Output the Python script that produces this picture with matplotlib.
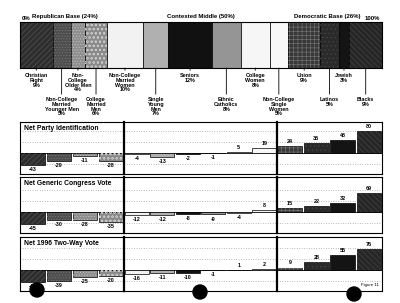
import matplotlib
matplotlib.use('Agg')
import matplotlib.pyplot as plt
from matplotlib.patches import Ellipse
import numpy as np

plt.rcParams['font.family'] = ['Liberation Sans', 'DejaVu Sans']
plt.rcParams['hatch.linewidth'] = 0.4

# ---------------- data ----------------
segments = ["Christian\nRight", "Non-College\nMarried\nYounger Men", "Non-\nCollege\nOlder Men",
            "College\nMarried\nMen", "Non-College\nMarried\nWomen", "Single\nYoung\nMen", "Seniors",
            "Ethnic\nCatholics", "College\nWomen", "Non-College\nSingle\nWomen", "Union", "Latinos",
            "Jewish", "Blacks"]
shares = [9, 5, 4, 6, 10, 7, 12, 8, 8, 5, 9, 5, 3, 9]
groups = ["Republican Base (24%)", "Contested Middle (50%)", "Democratic Base (26%)"]
group_sizes = [4, 6, 4]

row_titles = ["Net Party Identification", "Net Generic Congress Vote", "Net 1996 Two-Way Vote"]
net_party_id = [-43, -29, -11, -28, -4, -13, -2, -1, 5, 19, 24, 35, 48, 80]
net_congress = [-45, -30, -28, -35, -12, -12, -8, -9, -4, 8, 15, 22, 32, 69]
net_1996 = [-45, -39, -25, -20, -16, -11, -10, -1, 1, 2, 9, 28, 55, 76]
rows_data = [net_party_id, net_congress, net_1996]

# ---------------- styles ----------------
fills = ['#2e2e2e', '#4e4e4e', '#8e8e8e', '#8a8a8a', '#f2f2f2', '#b0b0b0', '#111111',
         '#959595', '#f6f6f6', '#f8f8f8', '#383838', '#2a2a2a', '#141414', '#262626']
hatches = ['//////', '......', '......', 'oooo', '', '', '', '', '', '', '++++', '....', '', '\\\\\\\\\\\\']
hatch_cols = ['#5a5a5a', '#777777', '#c4c4c4', '#c8c8c8', None, None, None, None, None, None,
              '#7a7a7a', '#484848', None, '#4a4a4a']

W, H = 400, 303
fig = plt.figure(figsize=(W / 100, H / 100), dpi=100)


def rect(x0, y0, x1, y1):
    return [x0 / W, 1 - y1 / H, (x1 - x0) / W, (y1 - y0) / H]


# ---------------- top stacked bar ----------------
ax = fig.add_axes(rect(20, 22, 382, 68))
lefts = np.concatenate([[0], np.cumsum(shares)[:-1]])
for i, (l, s) in enumerate(zip(lefts, shares)):
    ax.barh(0.5, s, left=l, height=1, color=fills[i], edgecolor='black', linewidth=0.5)
    if hatches[i]:
        ax.barh(0.5, s, left=l, height=1, color='none', edgecolor=hatch_cols[i],
                hatch=hatches[i], linewidth=0)
ax.set_xlim(0, sum(shares))
ax.set_ylim(0, 1)
ax.set_xticks([])
ax.set_yticks([])
for sp in ax.spines.values():
    sp.set_linewidth(0.8)

for i, (l, s) in enumerate(zip(lefts, shares)):
    c = l + s / 2
    y = -0.11 if i % 2 == 0 else -0.63
    ax.annotate(f"{segments[i]}\n{s}%", xy=(c, 0), xytext=(c, y), textcoords='data',
                ha='center', va='top', fontsize=3.9, fontweight='bold', linespacing=0.95,
                annotation_clip=False,
                arrowprops=dict(arrowstyle='-', lw=0.6, color='black', shrinkA=0, shrinkB=0,
                                relpos=(0.5, 1.0)))

gx = [12.5, 50, 85]
for g, name in enumerate(groups):
    ax.text(gx[g], 1.06, name, ha='center', va='bottom', fontsize=4.3, fontweight='bold')
ax.text(0.5, 1.03, "0%", ha='left', va='bottom', fontsize=4.3, fontweight='bold')
ax.text(99.5, 1.03, "100%", ha='right', va='bottom', fontsize=4.3, fontweight='bold')

# ---------------- bottom panels ----------------
cols_px = [(20, 124), (124, 277), (277, 382)]
rows_px = [(122, 174, 153), (177, 233, 212), (237, 291, 270)]
scale = 0.275

for r, vals_all in enumerate(rows_data):
    top, bot, zero = rows_px[r]
    idx = 0
    for c, (x0, x1) in enumerate(cols_px):
        n = group_sizes[c]
        vals = vals_all[idx:idx + n]
        sty = list(range(idx, idx + n))
        idx += n
        a = fig.add_axes(rect(x0, top, x1, bot))
        xs = np.arange(n)
        for k, v in enumerate(vals):
            j = sty[k]
            a.bar(xs[k], v, width=0.93, color=fills[j], edgecolor='black', linewidth=0.5, zorder=3)
            if hatches[j]:
                a.bar(xs[k], v, width=0.93, color='none', edgecolor=hatch_cols[j],
                      hatch=hatches[j], linewidth=0, zorder=3)
            if v < 0:
                a.annotate(f"{v}", xy=(xs[k], v), xytext=(0, -1.5), textcoords='offset points',
                           ha='center', va='top', fontsize=3.9, fontweight='bold')
            else:
                a.annotate(f"{v}", xy=(xs[k], v), xytext=(0, 1.5), textcoords='offset points',
                           ha='center', va='bottom', fontsize=3.9, fontweight='bold')
        a.set_xlim(-0.5, n - 0.5)
        a.set_ylim(-(bot - zero) / scale, (zero - top) / scale)
        for gy in [-80, -40, 40, 80]:
            a.axhline(gy, color='#7a7a7a', lw=0.5, ls=(0, (1, 2.5)), zorder=1)
        a.axhline(0, color='black', lw=0.6, zorder=2)
        a.set_xticks([])
        a.set_yticks([])
        for sp in a.spines.values():
            sp.set_linewidth(0.8)
        if c > 0:
            a.spines['left'].set_linewidth(1.6)
        if c == 0:
            a.text(0.04, 0.95, row_titles[r], transform=a.transAxes, ha='left', va='top',
                   fontsize=4.9, fontweight='bold', zorder=5)
        if r == 2 and c == 2:
            a.text(0.97, 0.08, "Figure 11", transform=a.transAxes, ha='right', va='bottom',
                   fontsize=3.2, zorder=5)

# hole punches of the scanned page
for (hx, hy) in [(37, 290), (200, 292), (354, 294)]:
    fig.patches.append(Ellipse((hx / W, 1 - hy / H), 14 / W, 14 / H, transform=fig.transFigure,
                               color='black', zorder=10))

fig.savefig('out.png', dpi=100)
